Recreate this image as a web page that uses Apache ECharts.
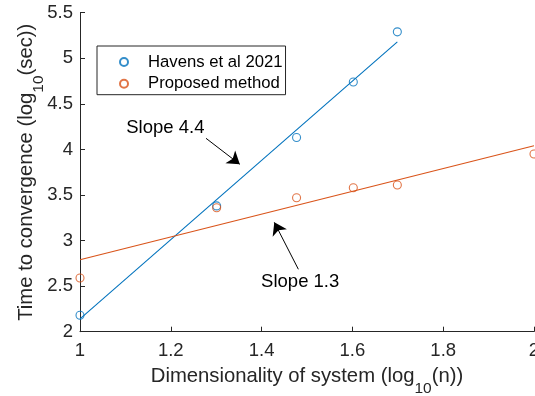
<!DOCTYPE html>
<html>
<head>
<meta charset="utf-8">
<script src="https://cdn.jsdelivr.net/npm/echarts@6/dist/echarts.min.js"></script>
<style>
html,body{margin:0;padding:0;background:#fff;}
#chart{width:535px;height:396px;}
</style>
</head>
<body>
<div id="chart"></div>
<script>
// ---- data ----
var havensX = [1, 1.301, 1.477, 1.602, 1.699];
var havensY = [2.18, 3.38, 4.13, 4.74, 5.29];
var proposedX = [1, 1.301, 1.477, 1.602, 1.699, 2];
var proposedY = [2.59, 3.36, 3.47, 3.58, 3.61, 3.95];
var havensFitX = [1, 1.699];
var havensFitY = [2.14, 5.18];
var proposedFitX = [1, 2];
var proposedFitY = [2.79, 4.04];
var xTicks = [1, 1.2, 1.4, 1.6, 1.8, 2];
var yTicks = [2, 2.5, 3, 3.5, 4, 4.5, 5, 5.5];
var seriesNames = ['Havens et al 2021', 'Proposed method'];
var annoText = ['Slope 4.4', 'Slope 1.3'];
var annoTextPos = [[1.188, 4.235], [1.485, 2.549]];
var annoArrowFrom = [[1.2775, 4.122], [1.481, 2.685]];
var annoArrowTo = [[1.352, 3.837], [1.428, 3.200]];

function zip(xs, ys) { return xs.map(function (x, i) { return [x, ys[i]]; }); }

var BLUE = '#0072BD', ORANGE = '#D95319', AX = '#262626';
var FONT = '"Liberation Sans", Arial, Helvetica, sans-serif';

var chart = echarts.init(document.getElementById('chart'), null, {renderer: 'canvas'});

var subRich = {
  sub: {fontSize: 15.5, fontFamily: FONT, color: AX, verticalAlign: 'bottom'}
};

var option = {
  animation: false,
  backgroundColor: '#fff',
  textStyle: {fontFamily: FONT},
  grid: {left: 80, right: 1, top: 12.7, bottom: 64.3, containLabel: false, outerBoundsMode: 'none'},
  legend: {
    data: seriesNames,
    orient: 'vertical',
    left: 97,
    top: 46,
    padding: [6, 3, 1, 22],
    itemGap: 1.7,
    itemWidth: 8,
    itemHeight: 8,
    backgroundColor: '#fff',
    borderColor: AX,
    borderWidth: 1,
    borderRadius: 0,
    textStyle: {fontSize: 16.7, color: '#000', fontFamily: FONT, lineHeight: 20, padding: [0, 0, 0, 15]}
  },
  xAxis: {
    type: 'value',
    min: 1, max: 2, interval: 0.2,
    name: 'Dimensionality of system (log{sub|10}(n))',
    nameLocation: 'middle',
    nameGap: 25,
    nameMoveOverlap: false,
    nameTextStyle: {fontSize: 20.3, color: AX, fontFamily: FONT, lineHeight: 40, rich: subRich},
    axisLine: {show: true, lineStyle: {color: AX, width: 1}},
    axisTick: {show: true, inside: true, length: 5, lineStyle: {color: AX}},
    axisLabel: {fontSize: 18.5, color: AX, margin: 10, fontFamily: FONT,
      formatter: function (v) { return String(Math.round(v * 10) / 10); }},
    splitLine: {show: false}
  },
  yAxis: {
    type: 'value',
    min: 2, max: 5.5, interval: 0.5,
    name: 'Time to convergence (log{sub|10}(sec))',
    nameLocation: 'middle',
    nameRotate: 90,
    nameGap: 33.5,
    nameMoveOverlap: false,
    nameTextStyle: {fontSize: 20.3, color: AX, fontFamily: FONT, lineHeight: 40, rich: subRich},
    axisLine: {show: true, lineStyle: {color: AX, width: 1}},
    axisTick: {show: true, inside: true, length: 5, lineStyle: {color: AX}},
    axisLabel: {fontSize: 18.5, color: AX, margin: 7, fontFamily: FONT,
      formatter: function (v) { return String(Math.round(v * 10) / 10); }},
    splitLine: {show: false}
  },
  series: [
    {
      name: 'havensFit', type: 'line', data: zip(havensFitX, havensFitY),
      showSymbol: false, silent: true,
      lineStyle: {color: BLUE, width: 1.1}, itemStyle: {color: BLUE}, z: 2
    },
    {
      name: 'proposedFit', type: 'line', data: zip(proposedFitX, proposedFitY),
      showSymbol: false, silent: true,
      lineStyle: {color: ORANGE, width: 1.1}, itemStyle: {color: ORANGE}, z: 2,
      markLine: {
        silent: true,
        symbol: ['none', 'arrow'],
        symbolSize: 12,
        label: {show: false},
        itemStyle: {color: '#000'},
        lineStyle: {color: '#000', width: 1, type: 'solid'},
        emphasis: {disabled: true},
        data: annoArrowFrom.map(function (p, i) {
          return [{coord: p}, {coord: annoArrowTo[i]}];
        })
      },
      markPoint: {
        silent: true,
        symbol: 'circle', symbolSize: 1,
        itemStyle: {color: 'rgba(0,0,0,0)'},
        label: {show: true, position: 'inside', color: '#000', fontSize: 18.5, fontFamily: FONT,
          formatter: function (p) { return p.name; }},
        data: annoTextPos.map(function (p, i) { return {name: annoText[i], coord: p}; })
      }
    },
    {
      name: seriesNames[0], type: 'scatter', data: zip(havensX, havensY),
      symbol: 'circle', symbolSize: 8,
      itemStyle: {color: 'rgba(255,255,255,0)', borderColor: BLUE, borderWidth: 1.1}, z: 3
    },
    {
      name: seriesNames[1], type: 'scatter', data: zip(proposedX, proposedY),
      symbol: 'circle', symbolSize: 8,
      itemStyle: {color: 'rgba(255,255,255,0)', borderColor: ORANGE, borderWidth: 1.1}, z: 3
    }
  ]
};
chart.setOption(option);
</script>
</body>
</html>
